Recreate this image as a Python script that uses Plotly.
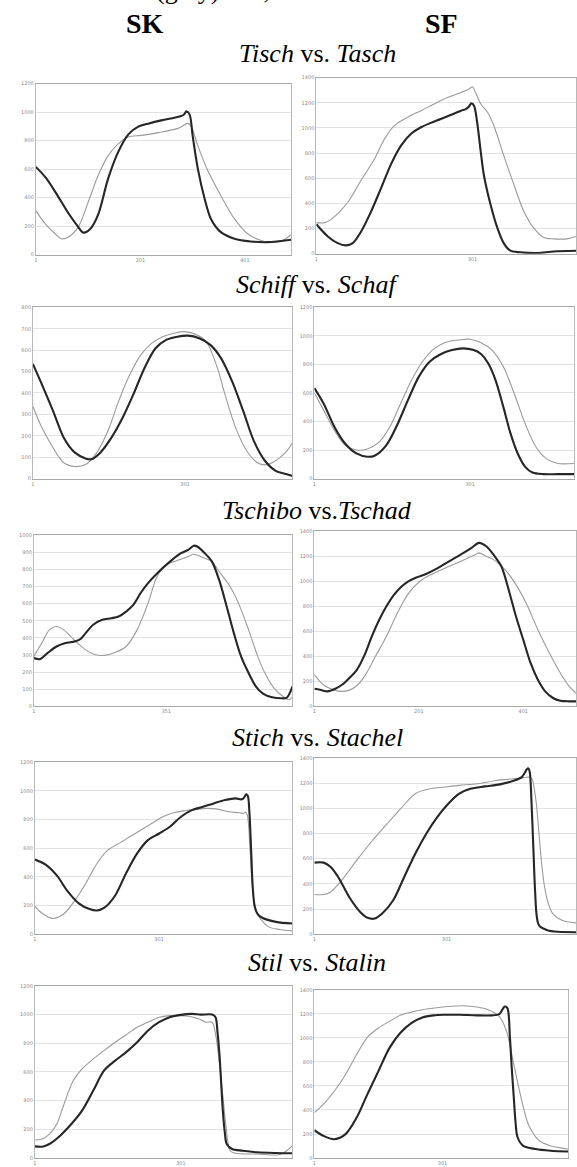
import plotly.graph_objects as go

W, H = 577, 1167

# ---------------- data (sample index vs. value) ----------------
# Row 1: Tisch vs. Tasch
tisch_sk_black_x = [1, 20, 40, 60, 80, 92, 105, 120, 139, 158, 178, 197, 216, 241, 266, 279, 285, 289, 295, 301, 311, 324, 336, 355, 381, 412, 444, 489]
tisch_sk_black_y = [616, 540, 430, 310, 205, 155, 180, 279, 530, 716, 844, 898, 919, 942, 961, 972, 985, 1005, 984, 833, 600, 391, 251, 158, 112, 93, 88, 105]
tisch_sk_gray_x = [1, 19, 38, 50, 63, 82, 101, 120, 139, 158, 178, 203, 235, 273, 292, 298, 311, 330, 355, 381, 406, 432, 451, 470, 489]
tisch_sk_gray_y = [309, 216, 147, 112, 123, 193, 367, 553, 693, 775, 826, 837, 856, 886, 921, 902, 763, 588, 414, 251, 147, 100, 88, 93, 140]

tisch_sf_black_x = [1, 23, 42, 58, 71, 87, 106, 125, 145, 164, 183, 202, 221, 240, 259, 279, 288, 294, 299, 304, 310, 317, 323, 336, 349, 361, 374, 393, 425, 457, 500]
tisch_sf_black_y = [234, 137, 84, 66, 84, 176, 334, 518, 716, 861, 953, 1005, 1040, 1071, 1103, 1137, 1150, 1169, 1195, 1176, 1045, 808, 624, 387, 203, 84, 24, 11, 5, 18, 24]
tisch_sf_gray_x = [1, 17, 36, 62, 87, 113, 132, 151, 176, 202, 227, 253, 279, 294, 301, 307, 317, 330, 342, 361, 381, 400, 419, 438, 457, 483, 500]
tisch_sf_gray_y = [247, 247, 295, 413, 584, 755, 913, 1019, 1084, 1137, 1190, 1242, 1282, 1308, 1327, 1282, 1190, 1124, 1019, 782, 545, 334, 203, 129, 118, 118, 137]

# Row 2: Schiff vs. Schaf
schiff_sk_black_x = [1, 19, 41, 62, 84, 106, 116, 134, 156, 178, 199, 221, 243, 264, 286, 307, 329, 351, 372, 394, 416, 437, 459, 480, 502, 513]
schiff_sk_black_y = [536, 439, 315, 191, 121, 93, 90, 121, 191, 284, 392, 516, 609, 648, 663, 668, 656, 625, 563, 454, 315, 175, 82, 36, 20, 12]
schiff_sk_gray_x = [1, 19, 41, 62, 84, 106, 127, 149, 170, 192, 214, 235, 257, 279, 300, 322, 343, 365, 380, 401, 423, 444, 459, 473, 488, 502, 513]
schiff_sk_gray_y = [338, 237, 144, 74, 56, 67, 121, 222, 361, 485, 578, 632, 663, 679, 687, 674, 640, 516, 392, 237, 129, 74, 64, 74, 98, 129, 167]

schiff_sf_black_x = [1, 19, 40, 61, 82, 103, 117, 139, 160, 181, 202, 223, 245, 266, 287, 308, 322, 336, 350, 365, 379, 393, 407, 421, 442, 470, 501]
schiff_sf_black_y = [635, 525, 360, 242, 176, 153, 160, 231, 372, 548, 713, 819, 873, 901, 913, 901, 873, 807, 689, 501, 313, 172, 82, 42, 31, 31, 31]
schiff_sf_gray_x = [1, 19, 40, 61, 82, 103, 125, 146, 167, 188, 209, 230, 252, 280, 301, 322, 343, 365, 386, 407, 428, 449, 470, 501]
schiff_sf_gray_y = [600, 478, 336, 231, 200, 207, 254, 360, 525, 689, 819, 906, 953, 972, 977, 953, 901, 784, 595, 384, 219, 136, 106, 106]

# Row 3: Tschibo vs. Tschad
tschibo_sk_black_x = [1, 17, 37, 61, 85, 109, 124, 138, 158, 182, 206, 225, 245, 264, 283, 303, 332, 361, 390, 409, 424, 433, 453, 472, 491, 511, 530, 549, 569, 588, 607, 631, 656, 670, 685]
tschibo_sk_black_y = [282, 276, 311, 350, 370, 379, 393, 428, 477, 506, 515, 525, 554, 593, 661, 720, 788, 846, 895, 914, 939, 934, 895, 846, 739, 584, 428, 292, 195, 117, 74, 53, 47, 51, 117]
tschibo_sk_gray_x = [1, 22, 42, 61, 80, 109, 138, 160, 187, 216, 245, 274, 303, 327, 351, 380, 409, 424, 443, 472, 491, 520, 544, 569, 593, 612, 636, 660, 675, 685]
tschibo_sk_gray_y = [292, 370, 447, 467, 447, 385, 330, 305, 298, 315, 350, 447, 603, 759, 827, 852, 875, 889, 875, 846, 788, 700, 593, 447, 292, 195, 107, 58, 39, 54]

tschibo_sf_black_x = [1, 12, 26, 40, 54, 68, 82, 97, 111, 125, 139, 153, 167, 181, 196, 217, 238, 259, 281, 302, 316, 330, 344, 359, 373, 387, 401, 415, 429, 443, 458, 472, 489, 502]
tschibo_sf_black_y = [141, 133, 120, 139, 173, 227, 290, 410, 560, 690, 800, 890, 955, 1000, 1030, 1063, 1107, 1160, 1213, 1267, 1307, 1280, 1213, 1120, 933, 720, 533, 347, 213, 120, 67, 45, 40, 40]
tschibo_sf_gray_x = [1, 19, 40, 54, 68, 82, 97, 118, 139, 160, 182, 203, 224, 245, 266, 288, 309, 316, 330, 344, 366, 387, 408, 429, 451, 472, 489, 502]
tschibo_sf_gray_y = [255, 170, 130, 120, 130, 165, 240, 400, 560, 747, 907, 1000, 1053, 1093, 1133, 1173, 1213, 1227, 1200, 1173, 1093, 973, 813, 613, 427, 267, 160, 107]

# Row 4: Stich vs. Stachel
stich_sk_black_x = [1, 27, 54, 80, 107, 133, 151, 169, 195, 221, 248, 274, 301, 327, 354, 380, 407, 433, 460, 486, 499, 505, 511, 515, 519, 523, 527, 532, 539, 550, 583, 623]
stich_sk_black_y = [521, 485, 410, 300, 215, 175, 165, 185, 270, 423, 563, 656, 702, 749, 819, 865, 888, 912, 935, 947, 940, 948, 975, 965, 850, 600, 330, 190, 140, 115, 86, 74]
stich_sk_gray_x = [1, 19, 45, 72, 98, 124, 151, 177, 204, 230, 257, 283, 310, 336, 363, 389, 416, 442, 468, 495, 504, 510, 514, 518, 521, 525, 530, 538, 548, 565, 592, 623]
stich_sk_gray_y = [195, 144, 109, 144, 237, 354, 493, 586, 633, 679, 726, 772, 819, 847, 861, 870, 877, 872, 854, 847, 842, 850, 830, 720, 563, 380, 237, 140, 98, 51, 33, 23]

stich_sf_black_x = [1, 22, 38, 55, 80, 105, 122, 138, 155, 180, 205, 230, 255, 280, 305, 330, 355, 388, 422, 455, 472, 479, 483, 487, 490, 494, 498, 502, 506, 511, 530, 555, 595]
stich_sf_black_y = [569, 569, 534, 455, 296, 177, 130, 124, 164, 270, 455, 640, 799, 931, 1037, 1117, 1156, 1175, 1191, 1222, 1249, 1285, 1310, 1318, 1290, 1050, 700, 350, 140, 70, 32, 19, 16]
stich_sf_gray_x = [1, 22, 38, 63, 97, 130, 163, 197, 230, 263, 297, 330, 372, 413, 472, 488, 495, 500, 505, 511, 517, 523, 530, 542, 563, 595]
stich_sf_gray_y = [315, 315, 336, 429, 587, 733, 865, 998, 1117, 1156, 1170, 1183, 1196, 1222, 1241, 1249, 1236, 1160, 1037, 800, 561, 390, 270, 164, 111, 90]

# Row 5: Stil vs. Stalin
stil_sk_black_x = [1, 16, 31, 53, 76, 98, 121, 143, 166, 188, 211, 233, 256, 278, 301, 323, 342, 365, 372, 376, 380, 384, 387, 391, 395, 406, 428, 458, 496, 530]
stil_sk_black_y = [81, 79, 98, 156, 237, 330, 470, 609, 679, 737, 807, 888, 947, 982, 998, 1005, 1000, 1000, 982, 880, 726, 500, 330, 180, 98, 63, 51, 40, 35, 33]
stil_sk_gray_x = [1, 16, 31, 46, 61, 80, 98, 121, 143, 166, 188, 211, 233, 256, 278, 301, 316, 338, 353, 365, 372, 378, 383, 388, 393, 402, 413, 458, 503, 518, 530]
stil_sk_gray_y = [126, 133, 167, 237, 377, 540, 621, 691, 749, 807, 858, 912, 947, 982, 993, 993, 988, 970, 947, 947, 865, 720, 563, 400, 237, 51, 33, 28, 23, 51, 86]

stil_sf_black_x = [1, 22, 48, 74, 100, 125, 151, 177, 202, 228, 254, 280, 305, 340, 382, 417, 434, 442, 447, 453, 459, 463, 468, 472, 477, 490, 519, 554, 595]
stil_sf_black_y = [232, 185, 157, 199, 337, 530, 724, 917, 1041, 1124, 1171, 1188, 1193, 1193, 1188, 1188, 1199, 1240, 1262, 1248, 1000, 760, 503, 300, 171, 102, 75, 61, 55]
stil_sf_gray_x = [1, 22, 48, 74, 100, 125, 151, 177, 202, 228, 254, 280, 314, 348, 382, 408, 434, 451, 468, 485, 502, 528, 554, 595]
stil_sf_gray_y = [378, 447, 558, 696, 862, 1005, 1083, 1138, 1188, 1215, 1235, 1248, 1262, 1268, 1257, 1235, 1179, 1055, 779, 503, 282, 144, 102, 75]

# axis settings per panel
x_max = [490, 500, 513, 501, 685, 502, 623, 595, 530, 595]
y_max = [1200, 1400, 800, 1200, 1000, 1400, 1200, 1400, 1200, 1400]
y_step = [200, 200, 100, 200, 100, 200, 200, 200, 200, 200]
x_ticks = [[1, 201, 401], [1, 301], [1, 301], [1, 301], [1, 351], [1, 201, 401],
           [1, 301], [1, 301], [1, 301], [1, 301]]

row_titles = ["<i>Tisch</i> vs. <i>Tasch</i>", "<i>Schiff</i> vs. <i>Schaf</i>",
              "<i>Tschibo</i> vs.<i>Tschad</i>", "<i>Stich</i> vs. <i>Stachel</i>",
              "<i>Stil</i> vs. <i>Stalin</i>"]
col_titles = ["SK", "SF"]

series = [
    (tisch_sk_gray_x, tisch_sk_gray_y, tisch_sk_black_x, tisch_sk_black_y),
    (tisch_sf_gray_x, tisch_sf_gray_y, tisch_sf_black_x, tisch_sf_black_y),
    (schiff_sk_gray_x, schiff_sk_gray_y, schiff_sk_black_x, schiff_sk_black_y),
    (schiff_sf_gray_x, schiff_sf_gray_y, schiff_sf_black_x, schiff_sf_black_y),
    (tschibo_sk_gray_x, tschibo_sk_gray_y, tschibo_sk_black_x, tschibo_sk_black_y),
    (tschibo_sf_gray_x, tschibo_sf_gray_y, tschibo_sf_black_x, tschibo_sf_black_y),
    (stich_sk_gray_x, stich_sk_gray_y, stich_sk_black_x, stich_sk_black_y),
    (stich_sf_gray_x, stich_sf_gray_y, stich_sf_black_x, stich_sf_black_y),
    (stil_sk_gray_x, stil_sk_gray_y, stil_sk_black_x, stil_sk_black_y),
    (stil_sf_gray_x, stil_sf_gray_y, stil_sf_black_x, stil_sf_black_y),
]

# ---------------- layout (pixel boxes: x0, x1, y0(top), y1(bottom)) ----------------
boxes = [
    (34, 291, 81, 253), (316, 577, 75, 252),
    (31, 292, 306, 478), (314, 575, 306, 478),
    (32, 292, 535, 707), (314, 577, 531, 707),
    (33, 292, 763, 936), (314, 577, 759, 936),
    (33, 292, 988, 1161), (314, 569, 992, 1161),
]
title_y = [51, 283, 510, 738, 964]
title_x = 317
col_x = [144, 442]
col_y = 21

SERIF = "Liberation Serif, Times New Roman, serif"
SANS = "DejaVu Sans, Arial, sans-serif"

fig = go.Figure()
layout = dict(
    width=W, height=H, margin=dict(l=0, r=0, t=0, b=0),
    paper_bgcolor="white", plot_bgcolor="white", showlegend=False,
)

for i, (gx, gy, bx, by) in enumerate(series):
    n = i + 1
    xa = "x" if n == 1 else f"x{n}"
    ya = "y" if n == 1 else f"y{n}"
    fig.add_trace(go.Scatter(x=gx, y=gy, xaxis=xa, yaxis=ya, mode="lines",
                             line=dict(color="#9a9a9a", width=1.1, shape="spline", smoothing=0.9),
                             hoverinfo="skip"))
    fig.add_trace(go.Scatter(x=bx, y=by, xaxis=xa, yaxis=ya, mode="lines",
                             line=dict(color="#262626", width=2.1, shape="spline", smoothing=0.9),
                             hoverinfo="skip"))
    x0, x1, y0, y1 = boxes[i]
    key_x = "xaxis" if n == 1 else f"xaxis{n}"
    key_y = "yaxis" if n == 1 else f"yaxis{n}"
    layout[key_x] = dict(
        domain=[x0 / W, x1 / W], range=[1, x_max[i]], anchor=ya,
        tickmode="array", tickvals=x_ticks[i], ticktext=[str(v) for v in x_ticks[i]],
        showgrid=False, zeroline=False, showline=True, mirror=True,
        linecolor="#a8a8a8", linewidth=1, ticks="",
        tickfont=dict(family=SANS, size=5, color="#8a8a8a"),
    )
    layout[key_y] = dict(
        domain=[1 - y1 / H, 1 - y0 / H], range=[0, y_max[i]], anchor=xa,
        dtick=y_step[i], tick0=0, showgrid=True, gridcolor="#e3e3e3", gridwidth=1,
        zeroline=False, showline=True, mirror=True, linecolor="#b8b8b8", linewidth=1,
        ticks="", tickformat="d",
        tickfont=dict(family=SANS, size=5, color="#8a8a8a"),
    )

annotations = []
for t, ty in zip(row_titles, title_y):
    annotations.append(dict(text=t, x=title_x / W, y=1 - ty / H, xref="paper", yref="paper",
                            xanchor="center", yanchor="middle", showarrow=False,
                            font=dict(family=SERIF, size=26, color="black")))
for t, cx in zip(col_titles, col_x):
    annotations.append(dict(text=f"<b>{t}</b>", x=cx / W, y=1 - col_y / H, xref="paper", yref="paper",
                            xanchor="center", yanchor="middle", showarrow=False,
                            font=dict(family=SERIF, size=28, color="black")))
# partially visible caption line at the very top (cut off in the reference too)
annotations.append(dict(text="(gray) and,", x=153 / W, y=1 - 4.5 / H, xref="paper", yref="paper",
                        xanchor="left", yanchor="bottom", showarrow=False,
                        font=dict(family=SERIF, size=26, color="black")))
layout["annotations"] = annotations

fig.update_layout(**layout)
fig.write_html("out.html")
